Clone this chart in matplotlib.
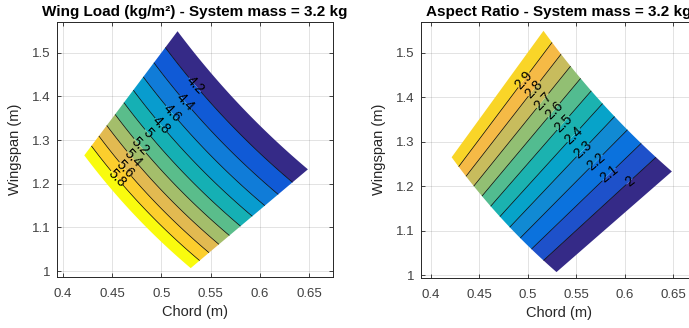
import numpy as np
import matplotlib
matplotlib.use("Agg")
import matplotlib.pyplot as plt
from matplotlib.colors import LinearSegmentedColormap

plt.rcParams['font.family'] = ['Liberation Sans', 'DejaVu Sans']

# ---------------- data ----------------
system_mass = 3.2                      # kg
wing_load_bounds = [4.0, 6.0]          # kg/m^2 (design space)
aspect_ratio_bounds = [1.9, 3.0]       # design space
wl_levels = [4.0, 4.2, 4.4, 4.6, 4.8, 5.0, 5.2, 5.4, 5.6, 5.8, 6.0]
ar_levels = [1.9, 2.0, 2.1, 2.2, 2.3, 2.4, 2.5, 2.6, 2.7, 2.8, 2.9, 3.0]
x_ticks = [0.4, 0.45, 0.5, 0.55, 0.6, 0.65]
x_ticklabels = ['0.4', '0.45', '0.5', '0.55', '0.6', '0.65']
y_ticks = [1.0, 1.1, 1.2, 1.3, 1.4, 1.5]
y_ticklabels = ['1', '1.1', '1.2', '1.3', '1.4', '1.5']
titles = ['Wing Load (kg/m²) - System mass = 3.2 kg',
          'Aspect Ratio - System mass = 3.2 kg']

# label anchor positions (chord, span)
wl_label_pos = [(0.5308, 1.4185), (0.5223, 1.3803), (0.5087, 1.3574),
                (0.4986, 1.3307), (0.4857, 1.3156), (0.4775, 1.2849),
                (0.4698, 1.2545), (0.4613, 1.2277), (0.4546, 1.2126)]
ar_label_pos = [(0.4937, 1.4443), (0.5057, 1.4217), (0.5144, 1.3947),
                (0.5264, 1.3722), (0.5367, 1.3422), (0.5486, 1.3114),
                (0.5572, 1.2813), (0.5710, 1.2549), (0.5847, 1.2246),
                (0.6054, 1.2095)]

# ---------------- parula colormap ----------------
parula_anchors = [
    (0.2081, 0.1663, 0.5292), (0.1959, 0.2645, 0.7279), (0.0117, 0.3875, 0.8820),
    (0.0498, 0.4586, 0.8641), (0.0793, 0.5200, 0.8312), (0.0343, 0.5966, 0.8199),
    (0.0228, 0.6535, 0.7768), (0.0843, 0.6928, 0.7062), (0.2178, 0.7250, 0.6193),
    (0.3953, 0.7459, 0.5244), (0.5709, 0.7485, 0.4494), (0.7184, 0.7411, 0.3905),
    (0.8507, 0.7299, 0.3360), (0.9739, 0.7314, 0.2666), (0.9990, 0.7653, 0.2164),
    (0.9880, 0.8066, 0.1794), (0.9589, 0.8949, 0.1132), (0.9763, 0.9831, 0.0538)]
parula_pos = [0, 4, 8, 12, 16, 20, 24, 28, 32, 36, 40, 44, 48, 52, 54, 56, 60, 63]
parula = LinearSegmentedColormap.from_list(
    'parula', [(p / 63.0, c) for p, c in zip(parula_pos, parula_anchors)])

# ---------------- design-space grid ----------------
wl_axis = np.linspace(wing_load_bounds[0], wing_load_bounds[1], 300)
ar_axis = np.linspace(aspect_ratio_bounds[0], aspect_ratio_bounds[1], 300)
WL, AR = np.meshgrid(wl_axis, ar_axis)
area = system_mass / WL
chord = np.sqrt(area / AR)
span = np.sqrt(area * AR)
Z_wl = system_mass / (chord * span)
Z_ar = span / chord
eps = 1e-9
Z_wl = np.clip(Z_wl, wl_levels[0] + eps, wl_levels[-1] - eps)
Z_ar = np.clip(Z_ar, ar_levels[0] + eps, ar_levels[-1] - eps)

fig = plt.figure(figsize=(6.89, 3.28), dpi=100)
ax1 = fig.add_axes([56.7 / 689, (328 - 276.7) / 328, 276.3 / 689, 255.0 / 328])
ax2 = fig.add_axes([420.7 / 689, (328 - 277.7) / 328, 276.3 / 689, 256.0 / 328])

spec = [
    (ax1, Z_wl, wl_levels, parula(np.linspace(0, 1, len(wl_levels) - 1)),
     wl_label_pos, (0.3936, 0.6744), (0.987, 1.571)),
    (ax2, Z_ar, ar_levels,
     parula(np.linspace(0, (len(ar_levels) - 2) / (len(ar_levels) - 1), len(ar_levels) - 1)),
     ar_label_pos, (0.3897, 0.6748), (0.994, 1.5697)),
]

edge = (0.15, 0.15, 0.15)
for (ax, Z, levels, cols, lpos, xl, yl), title in zip(spec, titles):
    ax.set_axisbelow(True)
    ax.grid(True, color=(0.15, 0.15, 0.15), alpha=0.13, linewidth=0.7)
    ax.contourf(chord, span, Z, levels=levels, colors=cols, antialiased=True)
    cl = ax.contour(chord, span, Z, levels=levels[1:-1], colors='k', linewidths=0.5)
    ax.clabel(cl, levels=levels[1:-1], manual=lpos, fontsize=10, inline=True,
              inline_spacing=1, fmt='%g', colors='k')
    ax.set_xlim(*xl)
    ax.set_ylim(*yl)
    ax.set_xticks(x_ticks)
    ax.set_xticklabels(x_ticklabels)
    ax.set_yticks(y_ticks)
    ax.set_yticklabels(y_ticklabels)
    ax.tick_params(direction='in', length=3, width=0.6, top=True, right=True,
                   colors=edge, labelcolor=(0.25, 0.25, 0.25), labelsize=9.5)
    ax.tick_params(axis='x', pad=8)
    ax.tick_params(axis='y', pad=4.5)
    for s in ax.spines.values():
        s.set_color(edge)
        s.set_linewidth(0.7)
    ax.set_xlabel('Chord (m)', fontsize=10.5, color=(0.15, 0.15, 0.15), labelpad=4)
    ax.set_ylabel('Wingspan (m)', fontsize=10.5, color=(0.15, 0.15, 0.15), labelpad=7)
    ax.set_title(title, fontsize=11, fontweight='bold', pad=4)

fig.savefig('out.png', dpi=100)
